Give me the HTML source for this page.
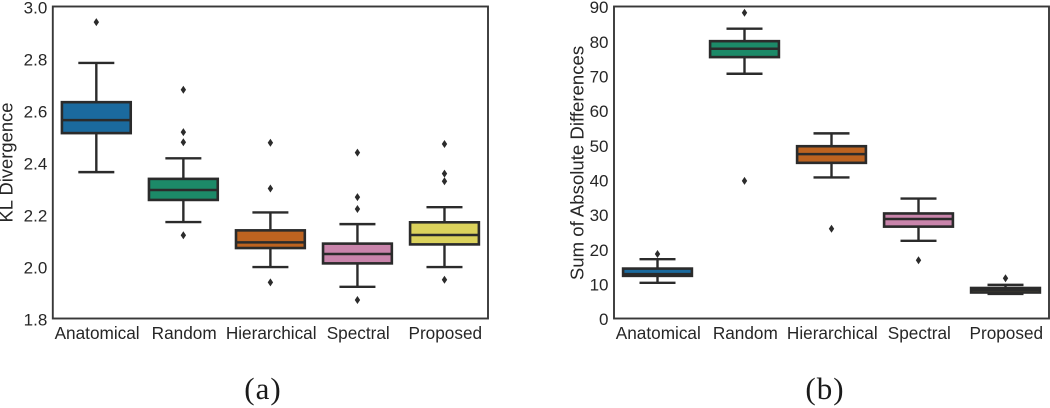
<!DOCTYPE html>
<html>
<head>
<meta charset="utf-8">
<style>
html,body{margin:0;padding:0;background:#fff;width:1050px;height:408px;overflow:hidden}
svg{display:block}
text{font-family:"Liberation Sans",sans-serif;fill:#262626}
.cap{font-family:"Liberation Serif",serif;fill:#1a1a1a;letter-spacing:1px}
</style>
</head>
<body>
<svg id="fig" width="1050" height="408" viewBox="0 0 1050 408" xmlns="http://www.w3.org/2000/svg"></svg>
<script>
const categories = ['Anatomical','Random','Hierarchical','Spectral','Proposed'];
const boxColors = ['#1b6a9e','#1c8a68','#bd6320','#c984ab','#dbd25c'];

const klTicks = [1.8,2.0,2.2,2.4,2.6,2.8,3.0];
const klLow = [2.363,2.171,1.998,1.922,1.998];
const klQ1 = [2.513,2.256,2.071,2.012,2.085];
const klMedian = [2.563,2.294,2.093,2.048,2.121];
const klQ3 = [2.632,2.337,2.139,2.088,2.170];
const klHigh = [2.783,2.416,2.208,2.163,2.228];
const klFliers = [[2.94],[2.68,2.517,2.478,2.12],[2.476,2.30,1.939],[2.438,2.267,2.221,1.871],[2.471,2.357,2.328,1.949]];

const sadTicks = [0,10,20,30,40,50,60,70,80,90];
const sadLow = [10.3,70.6,40.7,22.4,7.1];
const sadQ1 = [12.3,75.4,44.9,26.5,7.5];
const sadMedian = [12.8,77.8,47.4,28.7,8.2];
const sadQ3 = [14.4,80.0,49.7,30.3,8.8];
const sadHigh = [17.1,83.6,53.4,34.6,9.7];
const sadFliers = [[18.6],[88.2,39.7],[25.9],[16.8],[11.6]];

const NS = 'http://www.w3.org/2000/svg';
const fig = document.getElementById('fig');
function mk(parent, tag, attrs, text){
  const el = document.createElementNS(NS, tag);
  for(const k in attrs) el.setAttribute(k, attrs[k]);
  if(text !== undefined) el.textContent = text;
  parent.appendChild(el);
  return el;
}
function drawPanel(p){
  const g = mk(fig,'g',{});
  
  
  const y = v => p.bottom - (v - p.min) / (p.max - p.min) * (p.bottom - p.top);
  const step = (p.right - p.left) / categories.length;
  const x = i => p.left + step * (i + 0.5);
  const stroke = '#2b2b2b';
  p.ticks.forEach(t => {
    const lab = mk(g,'text',{x:p.left-5.5,y:y(t)+p.tickShift,'text-anchor':'end','font-size':17}, p.fmt(t));
    
    
  });
  categories.forEach((c,i) => {
    const lab = mk(g,'text',{x:x(i)+0.8,y:p.bottom+20.5,'text-anchor':'middle','font-size':17.2}, c);
    
    
    const b = mk(g,'g',{});
    
    
    const cx = x(i), hw = 34.4, cw = 18;
    const line = (x1,y1,x2,y2,w) => mk(b,'line',{x1,y1,x2,y2,stroke,'stroke-width':w});
    line(cx,y(p.high[i]),cx,y(p.q3[i]),2.4);
    line(cx,y(p.q1[i]),cx,y(p.low[i]),2.4);
    line(cx-cw,y(p.high[i]),cx+cw,y(p.high[i]),2.4);
    line(cx-cw,y(p.low[i]),cx+cw,y(p.low[i]),2.4);
    mk(b,'rect',{x:cx-hw,y:y(p.q3[i]),width:hw*2,height:y(p.q1[i])-y(p.q3[i]),fill:boxColors[i],stroke,'stroke-width':2.6});
    line(cx-hw,y(p.median[i]),cx+hw,y(p.median[i]),2.5);
    p.fliers[i].forEach(f => {
      const fy = y(f);
      const d = mk(b,'polygon',{points:`${cx},${fy-4} ${cx+2.7},${fy} ${cx},${fy+4} ${cx-2.7},${fy}`,fill:stroke});
      
      
    });
  });
  const frame = mk(g,'rect',{x:p.left,y:p.top,width:p.right-p.left,height:p.bottom-p.top,fill:'none',stroke:'#383838','stroke-width':1.9});
  
  
  const yl = mk(g,'text',{x:p.ylx,y:p.yly,'text-anchor':'middle','font-size':p.ylSize,transform:`rotate(-90 ${p.ylx} ${p.yly})`}, p.ylabel);
  
  
  const cap = mk(g,'text',{x:p.capx,y:399,'text-anchor':'middle','font-size':31,class:'cap'}, p.cap);
  
  
}
drawPanel({name:'kl-divergence-panel',left:52.8,right:488,top:6.5,bottom:318.5,min:1.8,max:3.0,ticks:klTicks,fmt:t=>t.toFixed(1),tickShift:7,
  low:klLow,q1:klQ1,median:klMedian,q3:klQ3,high:klHigh,fliers:klFliers,ylabel:'KL Divergence',ylx:12.5,yly:162.5,ylSize:18.4,cap:'(a)',capx:263});
drawPanel({name:'sum-absolute-differences-panel',left:614,right:1049,top:6.5,bottom:318.5,min:0,max:90,ticks:sadTicks,fmt:t=>String(t),tickShift:6.6,
  low:sadLow,q1:sadQ1,median:sadMedian,q3:sadQ3,high:sadHigh,fliers:sadFliers,ylabel:'Sum of Absolute Differences',ylx:583.5,yly:163,ylSize:18.6,cap:'(b)',capx:825});
</script>
</body>
</html>
